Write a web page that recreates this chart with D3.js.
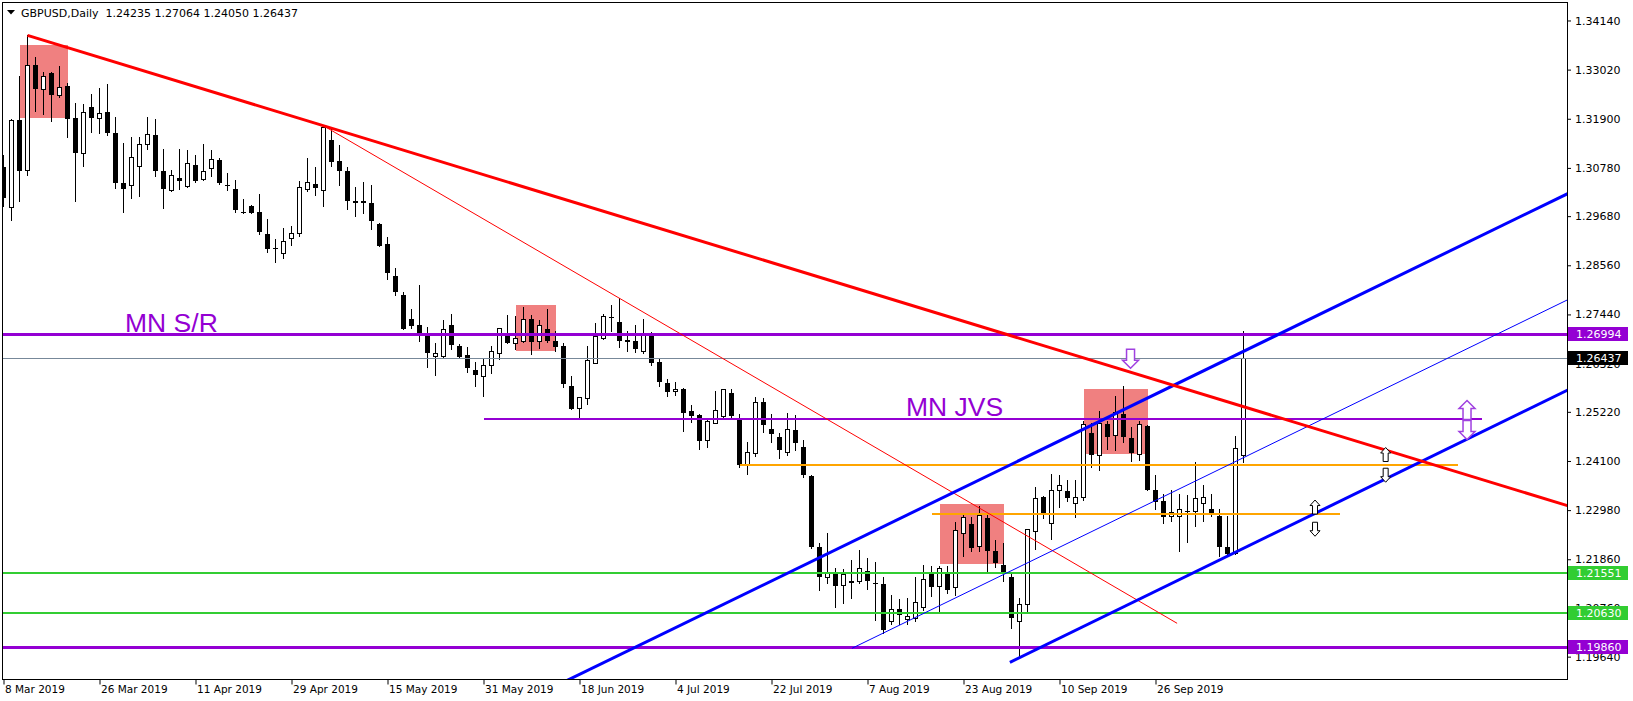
<!DOCTYPE html>
<html><head><meta charset="utf-8">
<script src="https://cdn.jsdelivr.net/npm/d3@7"></script>
<style>
html,body{margin:0;padding:0;background:#fff;}
svg{display:block;}
</style></head><body>
<svg id="chart" width="1633" height="701"></svg>
<script>
// ---------------- DATA ----------------
const symbolTitle = "GBPUSD,Daily";
const lastQuote = ["1.24235", "1.27064", "1.24050", "1.26437"];

const opens = [
1.3081,1.2988,1.3187,1.3072,1.3312,1.3257,1.3294,1.3243,1.3264,1.3191,
1.3111,1.3216,1.3191,1.3205,1.3157,1.3043,1.3038,1.3082,1.3131,1.3152,
1.3071,1.3026,1.3054,1.3035,1.3084,1.3052,1.3077,1.3096,1.3039,1.3029,
1.2978,1.2991,1.2977,1.2927,1.2895,1.2883,1.2917,1.2929,1.3028,1.3041,
1.3026,1.3142,1.3094,1.3071,1.3002,1.3002,1.2999,1.2950,1.2905,1.2832,
1.2788,1.2733,1.2720,1.2702,1.2649,1.2649,1.2721,1.2673,1.2651,1.2617,
1.2603,1.2627,1.2655,1.2695,1.2678,1.2682,1.2733,1.2682,1.2710,1.2683,
1.2672,1.2581,1.2529,1.2552,1.2633,1.2690,1.2737,1.2726,1.2685,1.2683,
1.2659,1.2697,1.2636,1.2587,1.2568,1.2574,1.2524,1.2515,1.2456,1.2496,
1.2512,1.2564,1.2509,1.2403,1.2426,1.2544,1.2483,1.2464,1.2429,1.2481,
1.2441,1.2376,1.2213,1.2145,1.2156,1.2126,1.2137,1.2135,1.2160,1.2133,
1.2130,1.2044,1.2073,1.2049,1.2050,1.2076,1.2152,1.2123,1.2158,1.2122,
1.2245,1.2266,1.2215,1.2281,1.2205,1.2174,1.2146,1.2045,1.2083,1.2249,
1.2327,1.2268,1.2342,1.2342,1.2313,1.2327,1.2474,1.2422,1.2494,1.2468,
1.2516,1.2463,1.2425,1.2490,1.2344,1.2319,1.2283,1.2283,1.2296,1.2295,
1.2313,1.2300,1.2284,1.2213,1.2199,1.24235];
const highs = [
1.3108,1.3190,1.3288,1.3380,1.3330,1.3297,1.3297,1.3310,1.3272,1.3225,
1.3224,1.3247,1.3259,1.3269,1.3195,1.3134,1.3148,1.3149,1.3195,1.3189,
1.3120,1.3073,1.3120,1.3119,1.3107,1.3133,1.3119,1.3101,1.3066,1.3050,
1.3006,1.2994,1.3019,1.2961,1.2915,1.2940,1.2946,1.3047,1.3100,1.3081,
1.3174,1.3171,1.3130,1.3081,1.3034,1.3045,1.3039,1.2952,1.2920,1.2849,
1.2795,1.2756,1.2811,1.2716,1.2680,1.2731,1.2744,1.2676,1.2669,1.2636,
1.2642,1.2672,1.2714,1.2743,1.2741,1.2760,1.2743,1.2731,1.2756,1.2706,
1.2680,1.2604,1.2556,1.2672,1.2725,1.2744,1.2766,1.2781,1.2706,1.2721,
1.2733,1.2705,1.2644,1.2597,1.2589,1.2577,1.2538,1.2517,1.2503,1.2569,
1.2575,1.2575,1.2517,1.2454,1.2555,1.2554,1.2516,1.2474,1.2519,1.2515,
1.2458,1.2379,1.2222,1.2245,1.2165,1.2164,1.2184,1.2207,1.2188,1.2180,
1.2145,1.2105,1.2095,1.2098,1.2146,1.2173,1.2171,1.2171,1.2171,1.2272,
1.2291,1.2283,1.2307,1.2288,1.2230,1.2222,1.2152,1.2097,1.2256,1.2350,
1.2330,1.2380,1.2378,1.2367,1.2367,1.2502,1.2496,1.2524,1.2502,1.2558,
1.2581,1.2488,1.2501,1.2492,1.2378,1.2334,1.2344,1.2334,1.2332,1.2408,
1.2355,1.2335,1.2300,1.2284,1.2467,1.27064];
const lows = [
1.2988,1.2958,1.3001,1.3060,1.3206,1.3199,1.3182,1.3238,1.3145,1.3001,
1.3079,1.3158,1.3155,1.3151,1.3031,1.2975,1.3006,1.3011,1.3119,1.3058,
1.2985,1.3022,1.3028,1.3032,1.3044,1.3047,1.3058,1.3038,1.3026,1.2976,
1.2973,1.2973,1.2925,1.2885,1.2862,1.2870,1.2900,1.2921,1.3022,1.3015,
1.2988,1.3079,1.3037,1.2982,1.2965,1.2973,1.2937,1.2898,1.2823,1.2785,
1.2708,1.2710,1.2682,1.2621,1.2604,1.2644,1.2663,1.2645,1.2610,1.2578,
1.2555,1.2608,1.2640,1.2676,1.2664,1.2679,1.2651,1.2666,1.2678,1.2659,
1.2577,1.2527,1.2505,1.2538,1.2631,1.2686,1.2705,1.2668,1.2659,1.2657,
1.2654,1.2626,1.2579,1.2555,1.2558,1.2477,1.2496,1.2435,1.2440,1.2494,
1.2509,1.2507,1.2393,1.2378,1.2420,1.2473,1.2452,1.2414,1.2421,1.2433,
1.2372,1.2209,1.2114,1.2130,1.2076,1.2084,1.2095,1.2130,1.2116,1.2046,
1.2015,1.2037,1.2037,1.2037,1.2044,1.2069,1.2101,1.2063,1.2107,1.2103,
1.2190,1.2203,1.2203,1.2155,1.2167,1.2135,1.2028,1.1959,1.2066,1.2206,
1.2277,1.2230,1.2302,1.2317,1.2279,1.2319,1.2394,1.2388,1.2435,1.2433,
1.2450,1.2408,1.2410,1.2342,1.2298,1.2266,1.2271,1.2202,1.2222,1.2260,
1.2272,1.2283,1.2192,1.2193,1.2195,1.24050];
const closes = [
1.3009,1.3187,1.3072,1.3312,1.3257,1.3286,1.3243,1.3261,1.3190,1.3111,
1.3205,1.3191,1.3202,1.3158,1.3044,1.3029,1.3102,1.3131,1.3154,1.3072,
1.3031,1.3060,1.3049,1.3087,1.3049,1.3069,1.3098,1.3043,1.3038,1.2981,
1.2976,1.2976,1.2933,1.2894,1.2893,1.2910,1.2929,1.3034,1.3045,1.3032,
1.3171,1.3092,1.3072,1.3003,1.2999,1.2999,1.2956,1.2900,1.2839,1.2794,
1.2710,1.2718,1.2702,1.2657,1.2655,1.2710,1.2674,1.2648,1.2623,1.2607,
1.2627,1.2660,1.2712,1.2678,1.2689,1.2733,1.2682,1.2719,1.2684,1.2670,
1.2585,1.2529,1.2555,1.2640,1.2693,1.2740,1.2738,1.2684,1.2682,1.2665,
1.2701,1.2634,1.2591,1.2568,1.2574,1.2520,1.2513,1.2456,1.2500,1.2524,
1.2572,1.2512,1.2401,1.2430,1.2544,1.2492,1.2471,1.2436,1.2482,1.2452,
1.2379,1.2215,1.2145,1.2156,1.2126,1.2152,1.2133,1.2165,1.2137,1.2131,
1.2025,1.2071,1.2059,1.2055,1.2088,1.2140,1.2122,1.2165,1.2117,1.2251,
1.2281,1.2212,1.2285,1.2205,1.2178,1.2157,1.2053,1.2083,1.2253,1.2325,
1.2287,1.2342,1.2355,1.2325,1.2327,1.2494,1.2423,1.2496,1.2465,1.2520,
1.2465,1.2429,1.2492,1.2344,1.2317,1.2283,1.2293,1.2300,1.2295,1.2325,
1.2327,1.2287,1.2214,1.2199,1.2439,1.26437];

// time axis labels (bar index of each label)
const dateTickBars = [0,12,24,36,48,60,72,84,96,108,120,132,144];
const dateTickLabels = ["8 Mar 2019","26 Mar 2019","11 Apr 2019","29 Apr 2019","15 May 2019",
  "31 May 2019","18 Jun 2019","4 Jul 2019","22 Jul 2019","7 Aug 2019","23 Aug 2019",
  "10 Sep 2019","26 Sep 2019"];
// price axis labels
const priceTicks = [1.34140,1.33020,1.31900,1.30780,1.29680,1.28560,1.27440,1.26320,
  1.25220,1.24100,1.22980,1.21860,1.20760,1.19640];

// horizontal levels
const srLevel = 1.26994;            // MN S/R
const bottomLevel = 1.19860;
const greenLevels = [1.21551, 1.20630];
const bidPrice = 1.26437;
const jvsLevel = [1.2505, 60, 184.8];          // price, from bar, to bar
const orangeLevels = [[1.2401, 92, 181.85], [1.2288, 116, 167.06]];

// trend lines: [bar1, price1, bar2, price2]
const redMain = [3, 1.3380, 40, 1.3174];
const redThin = [40, 1.3174, 146.7, 1.2040];
const blueUpper = [100, 1.2172, 150, 1.26155];
const blueLower = [125.8, 1.1951, 150, 1.21664];
const blueMid = [106.06, 1.1983, 150, 1.23732];

// shaded zones: [bar1, priceTop, bar2, priceBottom]
const zones = [[2,1.3358,8,1.3191],[64,1.2765,69,1.2661],[117,1.2313,125,1.2175],[135,1.2574,143,1.2427]];

// arrows: [bar, price, direction]
const purpleArrows = [[140.88,1.26429,"down"],[182.94,1.25262,"up"],[182.94,1.24806,"down"]];
const blackArrows = [[172.77,1.24247,"up"],[172.77,1.23775,"down"],[163.94,1.23050,"up"],[163.94,1.22544,"down"]];

// text labels: [text, bar, price]
const notes = [["MN S/R", 15.19, 1.2705], ["MN JVS", 112.8, 1.2513]];

// ---------------- DRAW ----------------
const svg = d3.select("#chart");
const W = 1633, H = 701;
const L = 2.5, R = 1567.5, T = 2.5, B = 679.5;

const x = d3.scaleLinear().domain([0, 195.4375]).range([3.5, 1567]);
const y = d3.scaleLinear().domain([1.19860, 1.26994]).range([647, 334]);

const PURPLE = "#9400D3", RED = "#FF0000", BLUE = "#0000FF", GREEN = "#32CD32", ORANGE = "#FFA500";

svg.append("rect").attr("width", W).attr("height", H).attr("fill", "#fff");

svg.append("clipPath").attr("id", "clip").append("rect")
  .attr("x", L + 0.5).attr("y", T + 0.5).attr("width", R - L - 1).attr("height", B - T - 1);
const plot = svg.append("g").attr("clip-path", "url(#clip)");

// zones (background)
plot.selectAll("rect.zone").data(zones).join("rect")
  .attr("x", d => x(d[0])).attr("y", d => y(d[1]))
  .attr("width", d => x(d[2]) - x(d[0])).attr("height", d => y(d[3]) - y(d[1]))
  .attr("fill", "#F08080").attr("shape-rendering", "crispEdges");

// candles
const bars = d3.range(opens.length).map(i => ({i, o: opens[i], h: highs[i], l: lows[i], c: closes[i]}));
const cg = plot.append("g").attr("shape-rendering", "crispEdges");
cg.selectAll("line.wick").data(bars).join("line")
  .attr("x1", d => x(d.i)).attr("x2", d => x(d.i))
  .attr("y1", d => y(d.h)).attr("y2", d => y(d.l))
  .attr("stroke", "#000").attr("stroke-width", 1);
cg.selectAll("rect.bear").data(bars.filter(d => d.c < d.o)).join("rect")
  .attr("x", d => x(d.i) - 2.5).attr("width", 5)
  .attr("y", d => y(d.o)).attr("height", d => Math.max(1, y(d.c) - y(d.o)))
  .attr("fill", "#000");
cg.selectAll("rect.bull").data(bars.filter(d => d.c >= d.o)).join("rect")
  .attr("x", d => x(d.i) - 2).attr("width", 4)
  .attr("y", d => y(d.c)).attr("height", d => Math.max(0.5, y(d.o) - y(d.c)))
  .attr("fill", "#fff").attr("stroke", "#000").attr("stroke-width", 1);

// horizontal lines
function hline(price, b1, b2, color, w) {
  plot.append("line")
    .attr("x1", b1 == null ? 0 : x(b1)).attr("x2", b2 == null ? W : x(b2))
    .attr("y1", y(price)).attr("y2", y(price))
    .attr("stroke", color).attr("stroke-width", w).attr("shape-rendering", "crispEdges");
}
hline(bidPrice, null, null, "#778899", 1);
greenLevels.forEach(p => hline(p, null, null, GREEN, 2));
orangeLevels.forEach(d => hline(d[0], d[1], d[2], ORANGE, 2));
hline(jvsLevel[0], jvsLevel[1], jvsLevel[2], PURPLE, 2);
hline(srLevel, null, null, PURPLE, 3);
hline(bottomLevel, null, null, PURPLE, 3);

// trend lines
function tline(a, color, w, extendLeft, extendRight) {
  const slope = (a[3] - a[1]) / (a[2] - a[0]);
  const b1 = extendLeft ? -20 : a[0];
  const b2 = extendRight ? 220 : a[2];
  plot.append("line")
    .attr("x1", x(b1)).attr("y1", y(a[1] + slope * (b1 - a[0])))
    .attr("x2", x(b2)).attr("y2", y(a[1] + slope * (b2 - a[0])))
    .attr("stroke", color).attr("stroke-width", w);
}
tline(redThin, RED, 1, false, false);
tline(blueMid, BLUE, 1, false, true);
tline(blueUpper, BLUE, 3, true, true);
tline(blueLower, BLUE, 3, false, true);
tline(redMain, RED, 3, false, true);

// arrows
function arrowPath(cx, cy, w, h, headH, shaftW, dir) {
  const s = dir === "up" ? -1 : 1;
  const tip = cy + s * h / 2, base = cy - s * h / 2, neck = tip - s * headH;
  return `M${cx - shaftW / 2},${base}L${cx + shaftW / 2},${base}L${cx + shaftW / 2},${neck}` +
    `L${cx + w / 2},${neck}L${cx},${tip}L${cx - w / 2},${neck}L${cx - shaftW / 2},${neck}Z`;
}
plot.selectAll("path.parrow").data(purpleArrows).join("path")
  .attr("d", d => arrowPath(x(d[0]), y(d[1]), 16, 19, 8, 8, d[2]))
  .attr("fill", "#fff").attr("stroke", "#A040E0").attr("stroke-width", 1.5);
plot.selectAll("path.barrow").data(blackArrows).join("path")
  .attr("d", d => arrowPath(x(d[0]), y(d[1]), 10, 14, 5.5, 5, d[2]))
  .attr("fill", "#fff").attr("stroke", "#000").attr("stroke-width", 1);

// notes
plot.selectAll("text.note").data(notes).join("text")
  .attr("x", d => x(d[1])).attr("y", d => y(d[2]))
  .attr("font-family", "'Liberation Sans', Arial, sans-serif").attr("font-size", 26.5)
  .attr("fill", PURPLE).text(d => d[0]);

// frame
svg.append("rect").attr("x", L).attr("y", T).attr("width", R - L).attr("height", B - T)
  .attr("fill", "none").attr("stroke", "#000").attr("stroke-width", 1).attr("shape-rendering", "crispEdges");

// price axis
const yAxis = d3.axisRight(y).tickValues(priceTicks).tickSize(4).tickPadding(4)
  .tickFormat(d3.format(".5f"));
const ya = svg.append("g").attr("transform", `translate(${R - 0.5},0)`).call(yAxis);
ya.select(".domain").remove();
ya.selectAll("text").attr("font-family", "'DejaVu Sans', sans-serif").attr("font-size", 11).attr("fill", "#000");
ya.selectAll("line").attr("stroke", "#000");

// price label boxes
const boxes = [[srLevel, PURPLE], [bidPrice, "#000"], [greenLevels[0], GREEN], [greenLevels[1], GREEN], [bottomLevel, PURPLE]];
const bg = svg.append("g");
bg.selectAll("rect").data(boxes).join("rect")
  .attr("x", R).attr("y", d => Math.round(y(d[0])) - 7).attr("width", 60).attr("height", 14)
  .attr("fill", d => d[1]).attr("shape-rendering", "crispEdges");
bg.selectAll("text").data(boxes).join("text")
  .attr("x", R + 8.5).attr("y", d => Math.round(y(d[0])) + 4)
  .attr("font-family", "'DejaVu Sans', sans-serif").attr("font-size", 11).attr("fill", "#fff")
  .text(d => d3.format(".5f")(d[0]));

// time axis
const xAxis = d3.axisBottom(x).tickValues(dateTickBars).tickSize(5).tickPadding(1)
  .tickFormat((d, i) => dateTickLabels[i]);
const xa = svg.append("g").attr("transform", `translate(0,${B})`).call(xAxis);
xa.select(".domain").remove();
xa.selectAll("text").attr("text-anchor", "start").attr("dx", 1)
  .attr("font-family", "'DejaVu Sans', sans-serif").attr("font-size", 10.5).attr("fill", "#000");
xa.selectAll("line").attr("stroke", "#000");

// title
svg.append("path").attr("d", "M7,10L15,10L11,14.5Z").attr("fill", "#000");
svg.append("text").attr("x", 21).attr("y", 16.5)
  .attr("font-family", "'DejaVu Sans', sans-serif").attr("font-size", 11).attr("fill", "#000")
  .style("white-space", "pre")
  .text(symbolTitle + "  " + lastQuote.join(" "));
</script>
</body></html>
